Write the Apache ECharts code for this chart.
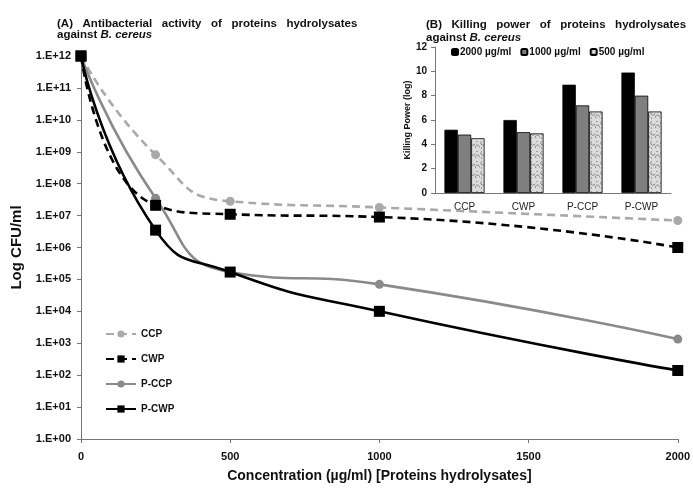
<!DOCTYPE html>
<html lang="en">
<head>
  <meta charset="UTF-8">
  <script src="https://cdn.jsdelivr.net/npm/echarts@6/dist/echarts.min.js"></script>
  <title>B. cereus</title>
</head>
<body>
  <div id="chart"></div>
</body>
<style>
  html,body{
    padding: 0;
    margin: 0;
    height: 100vh;
    width: 100vw;
    background: #fff;
  }
  #chart {
    height: 488px;
    width: 693px;
  }
</style>
</html>
<script>
// line chart (A)
const concentrations = [0, 250, 500, 1000, 2000]
const ccp  = [1e12, 8e8, 2.8e7, 1.8e7, 7e6]
const cwp  = [1e12, 2.1e7, 1.1e7, 9e6, 1e6]
const pccp = [1e12, 3.5e7, 1.7e5, 7e4, 1.35e3]
const pcwp = [1e12, 3.5e6, 1.7e5, 1e4, 1.4e2]

// bar chart (B)
const groups = ['CCP', 'CWP', 'P-CCP', 'P-CWP']
const kp2000 = [5.2, 6.0, 8.9, 9.9]
const kp1000 = [4.8, 5.0, 7.2, 8.0]
const kp500  = [4.5, 4.9, 6.7, 6.7]

const FONT = 'Liberation Sans, Arial, sans-serif'

// mottled fill for the 500 µg/ml bars
const tex = document.createElement('canvas')
tex.width = 10; tex.height = 10
const tc = tex.getContext('2d')
tc.fillStyle = '#dcdcdc'
tc.fillRect(0, 0, 10, 10)
tc.strokeStyle = '#8a8a8a'
tc.lineWidth = 1
tc.beginPath(); tc.arc(3, 3, 2.2, 0.3, 4.2); tc.stroke()
tc.beginPath(); tc.arc(7.5, 7, 2, 2.5, 6.5); tc.stroke()
tc.fillStyle = '#a0a0a0'
tc.fillRect(6, 1, 2, 1)
tc.fillRect(1, 7, 1, 2)

const pts = (ys) => concentrations.map((x, i) => [x, ys[i]])
const pad = (n) => (n < 10 ? '0' : '') + n

const lineSeries = (name, ys, color, dashed, symbol, size) => ({
  name: name,
  type: 'line',
  xAxisIndex: 0,
  yAxisIndex: 0,
  data: pts(ys),
  smooth: 0.55,
  symbol: symbol,
  symbolSize: size,
  itemStyle: { color: color },
  lineStyle: { color: color, width: 2.6, type: dashed ? [8, 5] : 'solid' },
  z: symbol === 'rect' ? 3 : 2
})

const barSeries = (name, ys, color) => ({
  name: name,
  type: 'bar',
  xAxisIndex: 1,
  yAxisIndex: 1,
  data: ys,
  barGap: '0%',
  barCategoryGap: '32%',
  itemStyle: { color: color, borderColor: '#000', borderWidth: 0.8 }
})

const option = {
  animation: false,
  textStyle: { fontFamily: FONT },
  title: [
    {
      left: 52, top: 13,
      text: '{n|(A)   Antibacterial   activity   of   proteins   hydrolysates}\n{n|against }{i|B. cereus}',
      textStyle: {
        rich: {
          n: { fontFamily: FONT, fontWeight: 'bold', fontSize: 11.5, color: '#111', lineHeight: 11 },
          i: { fontFamily: FONT, fontWeight: 'bold', fontStyle: 'italic', fontSize: 11.5, color: '#111', lineHeight: 11 }
        }
      }
    },
    {
      left: 421, top: 13,
      text: '{n|(B)   Killing   power   of   proteins   hydrolysates}\n{n|against }{i|B. cereus}',
      textStyle: {
        rich: {
          n: { fontFamily: FONT, fontWeight: 'bold', fontSize: 11.5, color: '#111', lineHeight: 13 },
          i: { fontFamily: FONT, fontWeight: 'bold', fontStyle: 'italic', fontSize: 11.5, color: '#111', lineHeight: 13 }
        }
      }
    }
  ],
  legend: [
    {
      data: ['CCP', 'CWP', 'P-CCP', 'P-CWP'],
      orient: 'vertical',
      left: 100, top: 324,
      itemWidth: 30, itemHeight: 9,
      itemGap: 15,
      textStyle: { fontFamily: FONT, fontWeight: 'bold', fontSize: 10, color: '#111' }
    },
    {
      data: ['2000 µg/ml', '1000 µg/ml', '500 µg/ml'],
      left: 446, top: 42,
      itemWidth: 6, itemHeight: 6,
      itemGap: 9,
      textStyle: { fontFamily: FONT, fontWeight: 'bold', fontSize: 10, color: '#111', padding: [0, 0, 0, -3] }
    }
  ],
  grid: [
    { left: 81, right: 15, top: 56, bottom: 46 },
    { left: 435, top: 47, width: 236, height: 146 }
  ],
  xAxis: [
    {
      gridIndex: 0,
      type: 'value',
      min: 0, max: 2000, interval: 500,
      name: 'Concentration (µg/ml) [Proteins hydrolysates]',
      nameLocation: 'middle',
      nameGap: 30,
      nameTextStyle: { fontFamily: FONT, fontWeight: 'bold', fontSize: 14, color: '#111' },
      axisLine: { lineStyle: { color: '#777' } },
      axisTick: { length: 4, lineStyle: { color: '#777' } },
      axisLabel: {
        margin: 12, fontFamily: FONT, fontWeight: 'bold', fontSize: 11, color: '#111',
        formatter: (v) => String(v)
      },
      splitLine: { show: false }
    },
    {
      gridIndex: 1,
      type: 'category',
      data: groups,
      axisLine: { lineStyle: { color: '#777' } },
      axisTick: { length: 4, lineStyle: { color: '#777' } },
      axisLabel: { margin: 9, fontFamily: FONT, fontSize: 10, color: '#222' }
    }
  ],
  yAxis: [
    {
      gridIndex: 0,
      type: 'log',
      logBase: 10,
      min: 1, max: 1e12,
      interval: 1,
      name: 'Log CFU/ml',
      nameLocation: 'middle',
      nameGap: 57,
      nameTextStyle: { fontFamily: FONT, fontWeight: 'bold', fontSize: 15, color: '#111' },
      axisLine: { show: true, lineStyle: { color: '#777' } },
      axisTick: { show: true, length: 4, lineStyle: { color: '#777' } },
      axisLabel: {
        margin: 10, fontFamily: FONT, fontWeight: 'bold', fontSize: 11, color: '#111',
        formatter: (v) => '1.E+' + pad(Math.round(Math.log10(v)))
      },
      splitLine: { show: false }
    },
    {
      gridIndex: 1,
      type: 'value',
      min: 0, max: 12, interval: 2,
      name: 'Killing Power (log)',
      nameLocation: 'middle',
      nameGap: 20,
      nameTextStyle: { fontFamily: FONT, fontWeight: 'bold', fontSize: 9, color: '#111' },
      axisLine: { show: true, lineStyle: { color: '#777' } },
      axisTick: { show: true, length: 4, lineStyle: { color: '#777' } },
      axisLabel: { margin: 8, fontFamily: FONT, fontWeight: 'bold', fontSize: 10, color: '#111' },
      splitLine: { show: false }
    }
  ],
  series: [
    lineSeries('CCP', ccp, '#a9a9a9', true, 'circle', 9),
    lineSeries('CWP', cwp, '#000', true, 'rect', 11),
    lineSeries('P-CCP', pccp, '#8a8a8a', false, 'circle', 9),
    lineSeries('P-CWP', pcwp, '#000', false, 'rect', 11),
    barSeries('2000 µg/ml', kp2000, '#000'),
    barSeries('1000 µg/ml', kp1000, '#7f7f7f'),
    barSeries('500 µg/ml', kp500, { image: tex, repeat: 'repeat' })
  ]
}

const chartDom = document.getElementById('chart')
const myChart = echarts.init(chartDom)
myChart.setOption(option)
</script>
